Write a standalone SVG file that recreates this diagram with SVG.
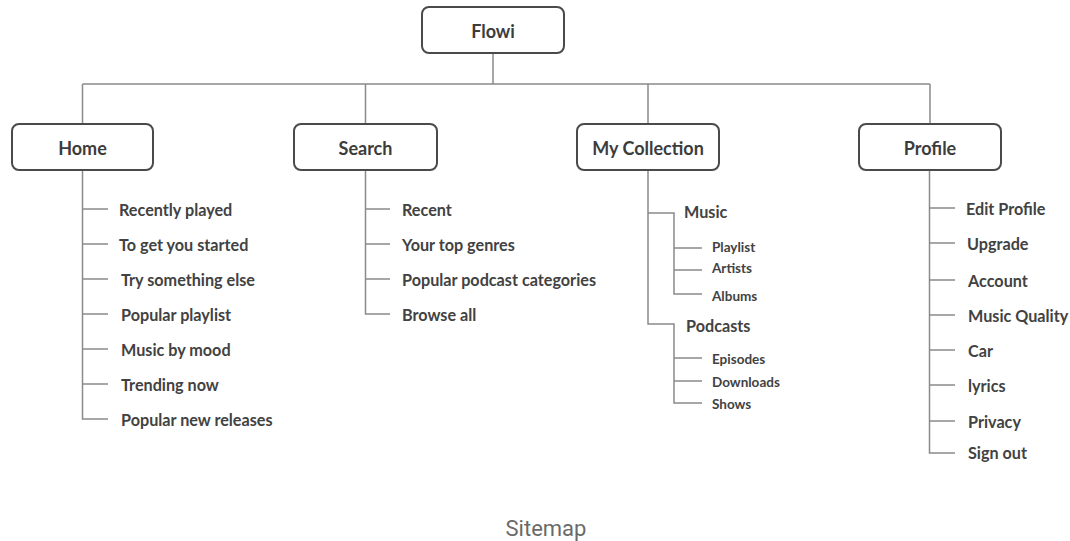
<svg xmlns="http://www.w3.org/2000/svg" width="1070" height="541" viewBox="0 0 1070 541">
  <style>
    .box { fill: #ffffff; stroke: #4a4a4a; stroke-width: 2; }
    .hd { font-family: Lato, "Liberation Sans", sans-serif; font-weight: 700; font-size: 18px; fill: #3c3c3c; text-anchor: middle; dominant-baseline: central; }
    .it { font-family: Lato, "Liberation Sans", sans-serif; font-weight: 700; font-size: 16.2px; fill: #424242; dominant-baseline: central; }
    .sub { font-family: Lato, "Liberation Sans", sans-serif; font-weight: 700; font-size: 13.5px; fill: #424242; dominant-baseline: central; }
    .ln { fill: none; stroke: #8a8a8a; stroke-width: 1.5; }
    .cap { font-family: Roboto, "Liberation Sans", sans-serif; font-size: 22px; fill: #6a6a6a; text-anchor: middle; dominant-baseline: central; }
  </style>
  <rect width="1070" height="541" fill="#ffffff"/>

  <!-- connectors -->
  <g id="connectors" class="ln">
    <path d="M493 53 V84 M82.5 84 H930 M82.5 84 V124 M365.5 84 V124 M648 84 V124 M930 84 V124"/>
    <!-- Home -->
    <path d="M82.5 170 V419 H108 M82.5 209 H108 M82.5 244 H108 M82.5 279 H108 M82.5 314 H108 M82.5 349 H108 M82.5 384 H108"/>
    <!-- Search -->
    <path d="M365.5 170 V314 H390 M365.5 209 H390 M365.5 244 H390 M365.5 279 H390"/>
    <!-- My Collection -->
    <path d="M648 170 V324 H674 V403 H702 M648 213 H674 V294 H702 M674 248 H702 M674 270 H702 M674 358 H702 M674 381 H702"/>
    <!-- Profile -->
    <path d="M929.5 170 V453 H955 M929.5 208 H955 M929.5 243 H955 M929.5 280 H955 M929.5 315 H955 M929.5 350 H955 M929.5 385 H955 M929.5 421 H955"/>
  </g>

  <g id="flowi">
    <rect class="box" x="422" y="7" width="142" height="46" rx="7"/>
    <text class="hd" x="493" y="31">Flowi</text>
  </g>

  <g id="home">
    <rect class="box" x="12" y="124" width="141" height="46" rx="7"/>
    <text class="hd" x="82.5" y="148">Home</text>
    <text class="it" x="119" y="209">Recently played</text>
    <text class="it" x="119" y="244">To get you started</text>
    <text class="it" x="121" y="279">Try something else</text>
    <text class="it" x="121" y="314">Popular playlist</text>
    <text class="it" x="121" y="349">Music by mood</text>
    <text class="it" x="121" y="384">Trending now</text>
    <text class="it" x="121" y="419">Popular new releases</text>
  </g>

  <g id="search">
    <rect class="box" x="294" y="124" width="143" height="46" rx="7"/>
    <text class="hd" x="365.5" y="148">Search</text>
    <text class="it" x="402" y="209">Recent</text>
    <text class="it" x="402" y="244">Your top genres</text>
    <text class="it" x="402" y="279">Popular podcast categories</text>
    <text class="it" x="402" y="314">Browse all</text>
  </g>

  <g id="my-collection">
    <rect class="box" x="577" y="124" width="142" height="46" rx="7"/>
    <text class="hd" x="648" y="148">My Collection</text>
    <text class="it" x="684" y="211">Music</text>
    <text class="sub" x="712" y="247">Playlist</text>
    <text class="sub" x="712" y="268">Artists</text>
    <text class="sub" x="712" y="296">Albums</text>
    <text class="it" x="686" y="325">Podcasts</text>
    <text class="sub" x="712" y="359">Episodes</text>
    <text class="sub" x="712" y="382">Downloads</text>
    <text class="sub" x="712" y="404">Shows</text>
  </g>

  <g id="profile">
    <rect class="box" x="859" y="124" width="142" height="46" rx="7"/>
    <text class="hd" x="930" y="148">Profile</text>
    <text class="it" x="966" y="208">Edit Profile</text>
    <text class="it" x="967" y="243">Upgrade</text>
    <text class="it" x="968" y="280">Account</text>
    <text class="it" x="968" y="315">Music Quality</text>
    <text class="it" x="968" y="350">Car</text>
    <text class="it" x="968" y="385">lyrics</text>
    <text class="it" x="968" y="421">Privacy</text>
    <text class="it" x="968" y="452">Sign out</text>
  </g>

  <text class="cap" x="546" y="528">Sitemap</text>
</svg>
